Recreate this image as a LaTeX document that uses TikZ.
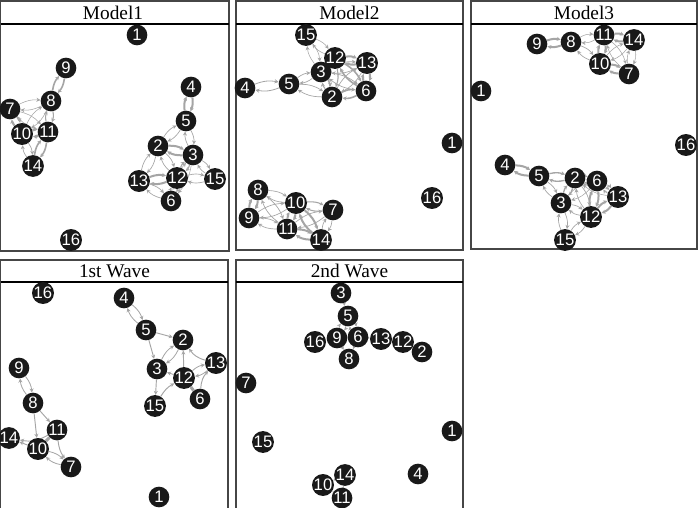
\documentclass[tikz,border=0pt]{standalone}
\usepackage{fontspec}
\setmainfont{Liberation Serif}
\newfontfamily\lsans{Liberation Sans}
\usetikzlibrary{arrows.meta}
\pgfdeclarelayer{bglayer}
\pgfdeclarelayer{edgelayer}
\pgfsetlayers{bglayer,edgelayer,main}
\definecolor{edgec}{RGB}{165,165,165}
\definecolor{nodec}{RGB}{25,25,25}
\definecolor{framec}{RGB}{70,70,70}
\newcommand{\edgepair}[3]{%
  \draw[edge,line width=#3] (#1) to[bend left=16] (#2);
  \draw[edge,line width=#3] (#2) to[bend left=16] (#1);}
\newcommand{\edgeone}[3][0]{%
  \draw[edge,line width=0.7pt] (#2) to[bend left=#1] (#3);}
\begin{document}
\begin{tikzpicture}[x=0.75pt,y=-0.75pt,
  nd/.style={circle,fill=nodec,text=white,minimum size=15.5pt,inner sep=0pt,
    font={\lsans\fontsize{12.5pt}{13pt}\selectfont}},
  edge/.style={draw=edgec,-{Stealth[length=3pt,width=3pt]}},
  frame/.style={draw=framec,line width=1pt},
  sep/.style={draw=black,line width=1.1pt},
  ttl/.style={font={\fontsize{14.5pt}{15pt}\selectfont},inner sep=0pt}]
\useasboundingbox (0,0) rectangle (699,507);
\begin{pgfonlayer}{bglayer}
\fill[white] (0,0) rectangle (699,507);
\end{pgfonlayer}
% ---------- frames ----------
\draw[frame] (0.7,1) rectangle (229,251);
\draw[sep] (0.7,24) -- (229,24);
\node[ttl] (t1) at (113,12.5) {Model1};
\draw[frame] (236,1) rectangle (463,250);
\draw[sep] (236,24) -- (463,24);
\node[ttl] (t2) at (349.5,12.5) {Model2};
\draw[frame] (471,1) rectangle (697,249);
\draw[sep] (471,24) -- (697,24);
\node[ttl] (t3) at (584,12.5) {Model3};
\draw[frame] (0.7,260) rectangle (228,512);
\draw[sep] (0.7,282) -- (228,282);
\node[ttl] (t4) at (114.5,271) {1st Wave};
\draw[frame] (236,260) rectangle (463,512);
\draw[sep] (236,282) -- (463,282);
\node[ttl] (t5) at (349.5,271) {2nd Wave};
% ---------- Panel 1 nodes ----------
\node[nd] (A1) at (137,35) {1};
\node[nd] (A9) at (66,68) {9};
\node[nd] (A8) at (51,101) {8};
\node[nd] (A7) at (10,109) {7};
\node[nd] (A10) at (22,134) {10};
\node[nd] (A11) at (48,132) {11};
\node[nd] (A14) at (33,166) {14};
\node[nd] (A4) at (191,87) {4};
\node[nd] (A5) at (186,121) {5};
\node[nd] (A2) at (158,146) {2};
\node[nd] (A3) at (193,155) {3};
\node[nd] (A12) at (177,178) {12};
\node[nd] (A15) at (215,179) {15};
\node[nd] (A13) at (139,181) {13};
\node[nd] (A6) at (171,201) {6};
\node[nd] (A16) at (71,240) {16};
% ---------- Panel 2 nodes ----------
\node[nd] (B15) at (306,35) {15};
\node[nd] (B12) at (335,58) {12};
\node[nd] (B13) at (367,63) {13};
\node[nd] (B3) at (321,72) {3};
\node[nd] (B5) at (289,84) {5};
\node[nd] (B4) at (245,88) {4};
\node[nd] (B2) at (332,97) {2};
\node[nd] (B6) at (366,91) {6};
\node[nd] (B1) at (452,143) {1};
\node[nd] (B16) at (432,198) {16};
\node[nd] (B8) at (258,190) {8};
\node[nd] (B10) at (296,203) {10};
\node[nd] (B7) at (333,210) {7};
\node[nd] (B9) at (249,218) {9};
\node[nd] (B11) at (287,229) {11};
\node[nd] (B14) at (321,240) {14};
% ---------- Panel 3 nodes ----------
\node[nd] (C9) at (537,44) {9};
\node[nd] (C8) at (571,42) {8};
\node[nd] (C11) at (604,35) {11};
\node[nd] (C14) at (634,40) {14};
\node[nd] (C10) at (600,64) {10};
\node[nd] (C7) at (629,74) {7};
\node[nd] (C1) at (481,91) {1};
\node[nd] (C16) at (686,145) {16};
\node[nd] (C4) at (505,165) {4};
\node[nd] (C5) at (539,176) {5};
\node[nd] (C2) at (575,178) {2};
\node[nd] (C6) at (597,181) {6};
\node[nd] (C13) at (618,197) {13};
\node[nd] (C3) at (561,203) {3};
\node[nd] (C12) at (591,217) {12};
\node[nd] (C15) at (565,240) {15};
% ---------- Panel 4 nodes ----------
\node[nd] (D16) at (43,293) {16};
\node[nd] (D4) at (124,298) {4};
\node[nd] (D5) at (146,330) {5};
\node[nd] (D2) at (183,340) {2};
\node[nd] (D13) at (216,363) {13};
\node[nd] (D3) at (157,369) {3};
\node[nd] (D12) at (184,378) {12};
\node[nd] (D6) at (200,399) {6};
\node[nd] (D15) at (155,406) {15};
\node[nd] (D9) at (19,368) {9};
\node[nd] (D8) at (33,403) {8};
\node[nd] (D11) at (57,430) {11};
\node[nd] (D14) at (9,438) {14};
\node[nd] (D10) at (38,449) {10};
\node[nd] (D7) at (71,467) {7};
\node[nd] (D1) at (159,497) {1};
% ---------- Panel 5 nodes ----------
\node[nd] (E3) at (341,293) {3};
\node[nd] (E5) at (348,316) {5};
\node[nd] (E16) at (315,342) {16};
\node[nd] (E9) at (337,338) {9};
\node[nd] (E6) at (358,337) {6};
\node[nd] (E13) at (381,339) {13};
\node[nd] (E12) at (403,342) {12};
\node[nd] (E2) at (422,352) {2};
\node[nd] (E8) at (349,359) {8};
\node[nd] (E7) at (246,383) {7};
\node[nd] (E1) at (452,431) {1};
\node[nd] (E15) at (263,442) {15};
\node[nd] (E4) at (418,474) {4};
\node[nd] (E14) at (345,475) {14};
\node[nd] (E10) at (323,485) {10};
\node[nd] (E11) at (342,498) {11};
% ---------- edges ----------
\begin{pgfonlayer}{edgelayer}
% Panel 1
\edgepair{A9}{A8}{1.2pt}
\edgepair{A8}{A11}{0.8pt}
\edgepair{A8}{A10}{0.4pt}
\edgepair{A8}{A7}{0.4pt}
\edgepair{A7}{A10}{1.5pt}
\edgepair{A7}{A11}{0.4pt}
\edgepair{A10}{A11}{2pt}
\edgepair{A10}{A14}{0.5pt}
\edgepair{A11}{A14}{1.2pt}
\edgepair{A4}{A5}{1.5pt}
\edgepair{A5}{A2}{0.5pt}
\edgepair{A5}{A3}{0.5pt}
\edgepair{A2}{A3}{1.5pt}
\edgepair{A2}{A13}{0.5pt}
\edgepair{A2}{A12}{0.5pt}
\edgepair{A3}{A12}{0.8pt}
\edgepair{A3}{A15}{0.5pt}
\edgepair{A12}{A15}{0.5pt}
\edgepair{A13}{A12}{1.5pt}
\edgepair{A13}{A6}{0.5pt}
\edgepair{A12}{A6}{1pt}
\edgepair{A3}{A6}{0.4pt}
% Panel 2
\edgepair{B4}{B5}{0.6pt}
\edgepair{B5}{B3}{0.5pt}
\edgepair{B5}{B2}{0.5pt}
\edgepair{B15}{B12}{0.4pt}
\edgepair{B15}{B3}{0.4pt}
\edgepair{B3}{B12}{1.2pt}
\edgepair{B3}{B13}{0.5pt}
\edgepair{B3}{B6}{0.5pt}
\edgepair{B3}{B2}{0.8pt}
\edgepair{B12}{B13}{1.5pt}
\edgepair{B12}{B6}{1.2pt}
\edgepair{B12}{B2}{0.8pt}
\edgepair{B13}{B6}{1.5pt}
\edgepair{B2}{B6}{1.2pt}
\edgepair{B13}{B2}{0.5pt}
\edgepair{B8}{B9}{1.5pt}
\edgepair{B8}{B10}{0.5pt}
\edgepair{B8}{B11}{0.5pt}
\edgepair{B9}{B10}{0.5pt}
\edgepair{B9}{B11}{0.5pt}
\edgepair{B10}{B11}{1.5pt}
\edgepair{B10}{B7}{0.8pt}
\edgepair{B10}{B14}{1.5pt}
\edgepair{B11}{B14}{1.5pt}
\edgepair{B11}{B7}{0.5pt}
\edgepair{B7}{B14}{0.5pt}
% Panel 3
\edgepair{C9}{C8}{1.5pt}
\edgepair{C8}{C11}{0.4pt}
\edgepair{C8}{C10}{0.5pt}
\edgepair{C11}{C10}{1.5pt}
\edgepair{C11}{C14}{1.5pt}
\edgepair{C11}{C7}{0.4pt}
\edgepair{C10}{C14}{0.4pt}
\edgepair{C10}{C7}{1.5pt}
\edgepair{C14}{C7}{0.4pt}
\edgepair{C4}{C5}{1.5pt}
\edgepair{C5}{C2}{1pt}
\edgepair{C5}{C3}{0.5pt}
\edgepair{C2}{C3}{1pt}
\edgepair{C2}{C6}{0.5pt}
\edgepair{C2}{C12}{0.5pt}
\edgepair{C3}{C12}{0.5pt}
\edgepair{C3}{C6}{0.4pt}
\edgepair{C3}{C15}{0.5pt}
\edgepair{C12}{C15}{0.5pt}
\edgepair{C6}{C12}{1.5pt}
\edgepair{C6}{C13}{0.5pt}
\edgepair{C12}{C13}{1.5pt}
\edgepair{C2}{C13}{0.4pt}
% Panel 4
\edgepair{D4}{D5}{0.6pt}
\edgeone{D5}{D2}
\edgeone{D5}{D3}
\edgepair{D2}{D3}{0.6pt}
\edgeone{D12}{D2}
\edgeone[20]{D13}{D2}
\edgeone{D12}{D3}
\edgepair{D12}{D13}{0.6pt}
\edgeone[20]{D6}{D13}
\draw[draw=edgec,line width=2.2pt] (D12) -- (D6);
\edgeone{D3}{D15}
\edgeone[15]{D15}{D12}
\edgepair{D9}{D8}{0.6pt}
\edgeone{D8}{D11}
\edgeone{D8}{D10}
\edgeone[20]{D11}{D14}
\edgeone{D10}{D14}
\draw[draw=edgec,line width=2.2pt] (D10) -- (D11);
\edgepair{D10}{D7}{0.6pt}
\edgeone[-15]{D11}{D7}
% Panel 5
\edgeone{E3}{E5}
\edgepair{E5}{E9}{0.5pt}
\edgepair{E5}{E6}{0.5pt}
\edgeone{E9}{E8}
\edgeone{E6}{E8}
\edgeone{E16}{E9}
\edgeone{E6}{E13}
\edgeone{E12}{E13}
\edgeone{E2}{E12}
\edgeone{E14}{E10}
\edgeone{E11}{E10}
\edgeone{E11}{E14}
\end{pgfonlayer}
\end{tikzpicture}
\end{document}
